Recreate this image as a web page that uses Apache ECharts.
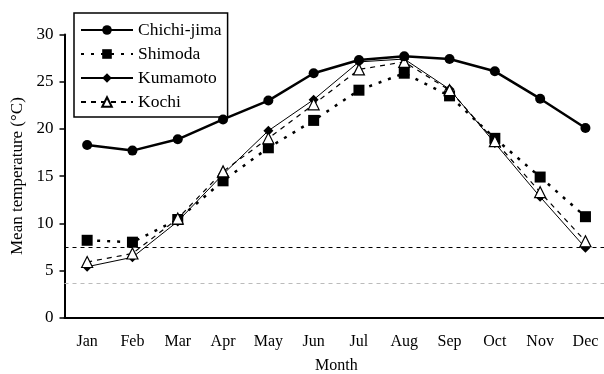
<!DOCTYPE html>
<html>
<head>
<meta charset="utf-8">
<script src="https://cdn.jsdelivr.net/npm/echarts@6/dist/echarts.min.js"></script>
<style>
  html, body { margin: 0; padding: 0; background: #fff; }
  #chart { width: 604px; height: 374px; }
</style>
</head>
<body>
<div id="chart"></div>
<script>
// Monthly mean temperatures (°C) at four stations
const months = ['Jan', 'Feb', 'Mar', 'Apr', 'May', 'Jun', 'Jul', 'Aug', 'Sep', 'Oct', 'Nov', 'Dec'];
const chichijima = [18.3, 17.7, 18.9, 21.0, 23.0, 25.9, 27.3, 27.7, 27.4, 26.1, 23.2, 20.1];
const shimoda    = [8.2, 8.0, 10.4, 14.5, 18.0, 20.9, 24.1, 25.9, 23.5, 19.0, 14.9, 10.7];
const kumamoto   = [5.4, 6.4, 10.2, 15.2, 19.8, 23.1, 27.1, 27.4, 24.2, 18.5, 12.8, 7.4];
const kochi      = [5.9, 6.8, 10.5, 15.5, 19.0, 22.6, 26.3, 27.1, 24.1, 18.7, 13.3, 8.1];
const refLevels  = [7.5, 3.65];

const serif = 'Liberation Serif';
const chart = echarts.init(document.getElementById('chart'));

chart.setOption({
  backgroundColor: '#fff',
  animation: false,
  textStyle: { fontFamily: serif, color: '#000' },
  // plot area runs slightly past the right edge of the canvas
  grid: {
    left: 64.5, width: 543.6, top: 34.5, bottom: 56.3,
    containLabel: false,
    outerBoundsMode: 'none'
  },
  legend: {
    left: 74,
    top: 13,
    orient: 'vertical',
    itemWidth: 52,
    itemHeight: 12,
    itemGap: 6,
    padding: [8, 6, 6, 6],
    borderColor: '#000',
    borderWidth: 1.5,
    backgroundColor: '#fff',
    textStyle: { fontFamily: serif, fontSize: 17.5, color: '#000' },
    data: ['Chichi-jima', 'Shimoda', 'Kumamoto', 'Kochi']
  },
  xAxis: {
    type: 'category',
    data: months,
    boundaryGap: true,
    name: 'Month',
    nameLocation: 'middle',
    nameGap: 40,
    nameTextStyle: { fontFamily: serif, fontSize: 16, color: '#000' },
    axisLine: { lineStyle: { color: '#000', width: 2 } },
    axisTick: { inside: true, length: 5, lineStyle: { color: '#000', width: 1.5 } },
    axisLabel: { fontFamily: serif, fontSize: 16, color: '#000', margin: 16 },
    splitLine: { show: false }
  },
  yAxis: {
    type: 'value',
    min: 0,
    max: 30,
    interval: 5,
    name: 'Mean temperature (°C)',
    nameLocation: 'middle',
    nameGap: 38,
    nameTextStyle: { fontFamily: serif, fontSize: 17, color: '#000' },
    axisLine: { show: true, lineStyle: { color: '#000', width: 2 } },
    axisTick: { show: true, inside: false, length: 5, lineStyle: { color: '#000', width: 1.5 } },
    axisLabel: { fontFamily: serif, fontSize: 17, color: '#000', margin: 11 },
    splitLine: { show: false }
  },
  series: [
    {
      name: 'Chichi-jima',
      type: 'line',
      data: chichijima,
      symbol: 'circle',
      symbolSize: 10,
      itemStyle: { color: '#000' },
      lineStyle: { color: '#000', width: 2.5 },
      z: 5
    },
    {
      name: 'Shimoda',
      type: 'line',
      data: shimoda,
      symbol: 'rect',
      symbolSize: 11,
      itemStyle: { color: '#000' },
      lineStyle: { color: '#000', width: 2.5, type: [3, 7] },
      z: 3
    },
    {
      name: 'Kumamoto',
      type: 'line',
      data: kumamoto,
      symbol: 'diamond',
      symbolSize: 10,
      itemStyle: { color: '#000' },
      lineStyle: { color: '#000', width: 1 },
      z: 3,
      markLine: {
        silent: true,
        symbol: 'none',
        label: { show: false },
        data: [
          { yAxis: refLevels[0], lineStyle: { color: '#000', width: 1, type: [4, 4] } },
          { yAxis: refLevels[1], lineStyle: { color: '#bbb', width: 1, type: [4, 4] } }
        ]
      }
    },
    {
      name: 'Kochi',
      type: 'line',
      data: kochi,
      symbol: 'triangle',
      symbolSize: 11,
      itemStyle: { color: '#fff', borderColor: '#000', borderWidth: 1.2 },
      lineStyle: { color: '#000', width: 1.2, type: [5, 5] },
      z: 4
    }
  ]
});
</script>
</body>
</html>
